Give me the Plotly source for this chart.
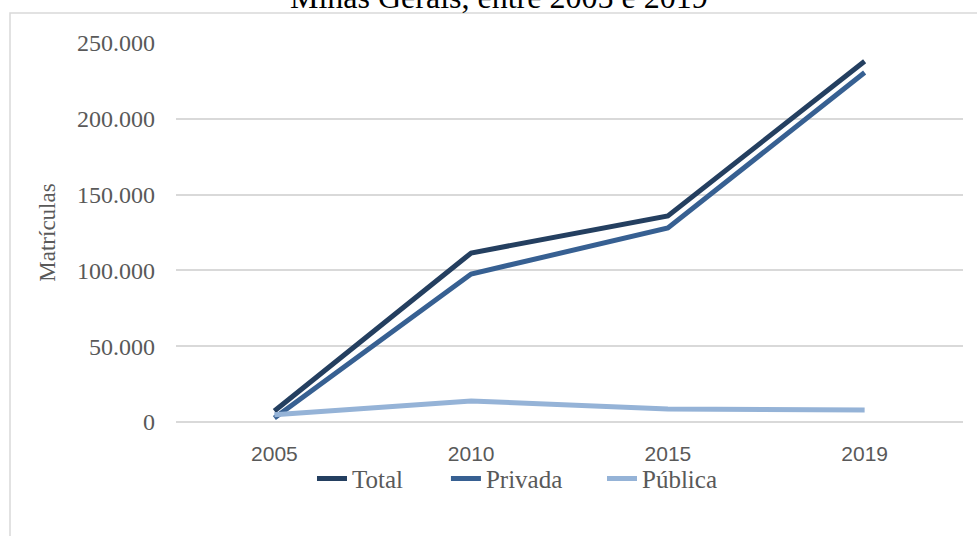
import plotly.graph_objects as go

years = ["2005", "2010", "2015", "2019"]
total = [7300, 111500, 135900, 238000]
privada = [2600, 97600, 128000, 230500]
publica = [4800, 13900, 8600, 7900]
y_ticks = [0, 50000, 100000, 150000, 200000, 250000]
y_tick_labels = ["0", "50.000", "100.000", "150.000", "200.000", "250.000"]

series = [("Total", total, "#243F60", "legend", 0.1728),
          ("Privada", privada, "#376092", "legend2", 0.343),
          ("Pública", publica, "#95B3D7", "legend3", 0.5413)]

serif = "Liberation Serif, Times New Roman, serif"

fig = go.Figure()
legends = {}
for name, vals, color, lg, lx in series:
    fig.add_trace(go.Scatter(x=years, y=vals, name=name, mode="lines", legend=lg,
                             line=dict(color=color, width=5)))
    legends[lg] = dict(orientation="h", x=lx, xanchor="left", y=-0.15, yanchor="middle",
                       font=dict(family=serif, size=25, color="#595959"),
                       bgcolor="rgba(0,0,0,0)", borderwidth=0)

fig.update_layout(
    width=977, height=536,
    margin=dict(l=176, r=14, t=43, b=114, autoexpand=False),
    paper_bgcolor="white", plot_bgcolor="white",
    showlegend=True,
    xaxis=dict(type="category", range=[-0.5, 3.5], showgrid=False, showline=False, zeroline=False,
               ticks="", ticklabelstandoff=17,
               tickfont=dict(family="Liberation Sans, Arial, sans-serif", size=21, color="#595959")),
    yaxis=dict(range=[0, 250000], tickvals=y_ticks, ticktext=y_tick_labels,
               showgrid=True, gridcolor="#D9D9D9", gridwidth=1.5, zeroline=True, zerolinecolor="#D9D9D9",
               zerolinewidth=1.5, showline=False, ticks="", ticklabelstandoff=20,
               tickfont=dict(family=serif, size=24, color="#595959"),
               title=dict(text="Matrículas", font=dict(family=serif, size=23, color="#595959"), standoff=14)),
    annotations=[dict(text="Minas Gerais, entre 2005 e 2019", xref="paper", yref="paper",
                      x=0.411, y=1.121, xanchor="center", yanchor="middle", showarrow=False,
                      font=dict(family=serif, size=32, color="black"))],
    shapes=[dict(type="rect", xref="paper", yref="paper",
                 x0=(10 - 176) / 787, x1=(1000 - 176) / 787,
                 y0=(-10 - 114) / 379, y1=(536 - 114 - 13) / 379,
                 line=dict(color="#D9D9D9", width=1.5), layer="below")],
    **legends,
)
fig.write_html("out.html", config={"displayModeBar": False},
               post_script="document.body.style.margin='0';")
